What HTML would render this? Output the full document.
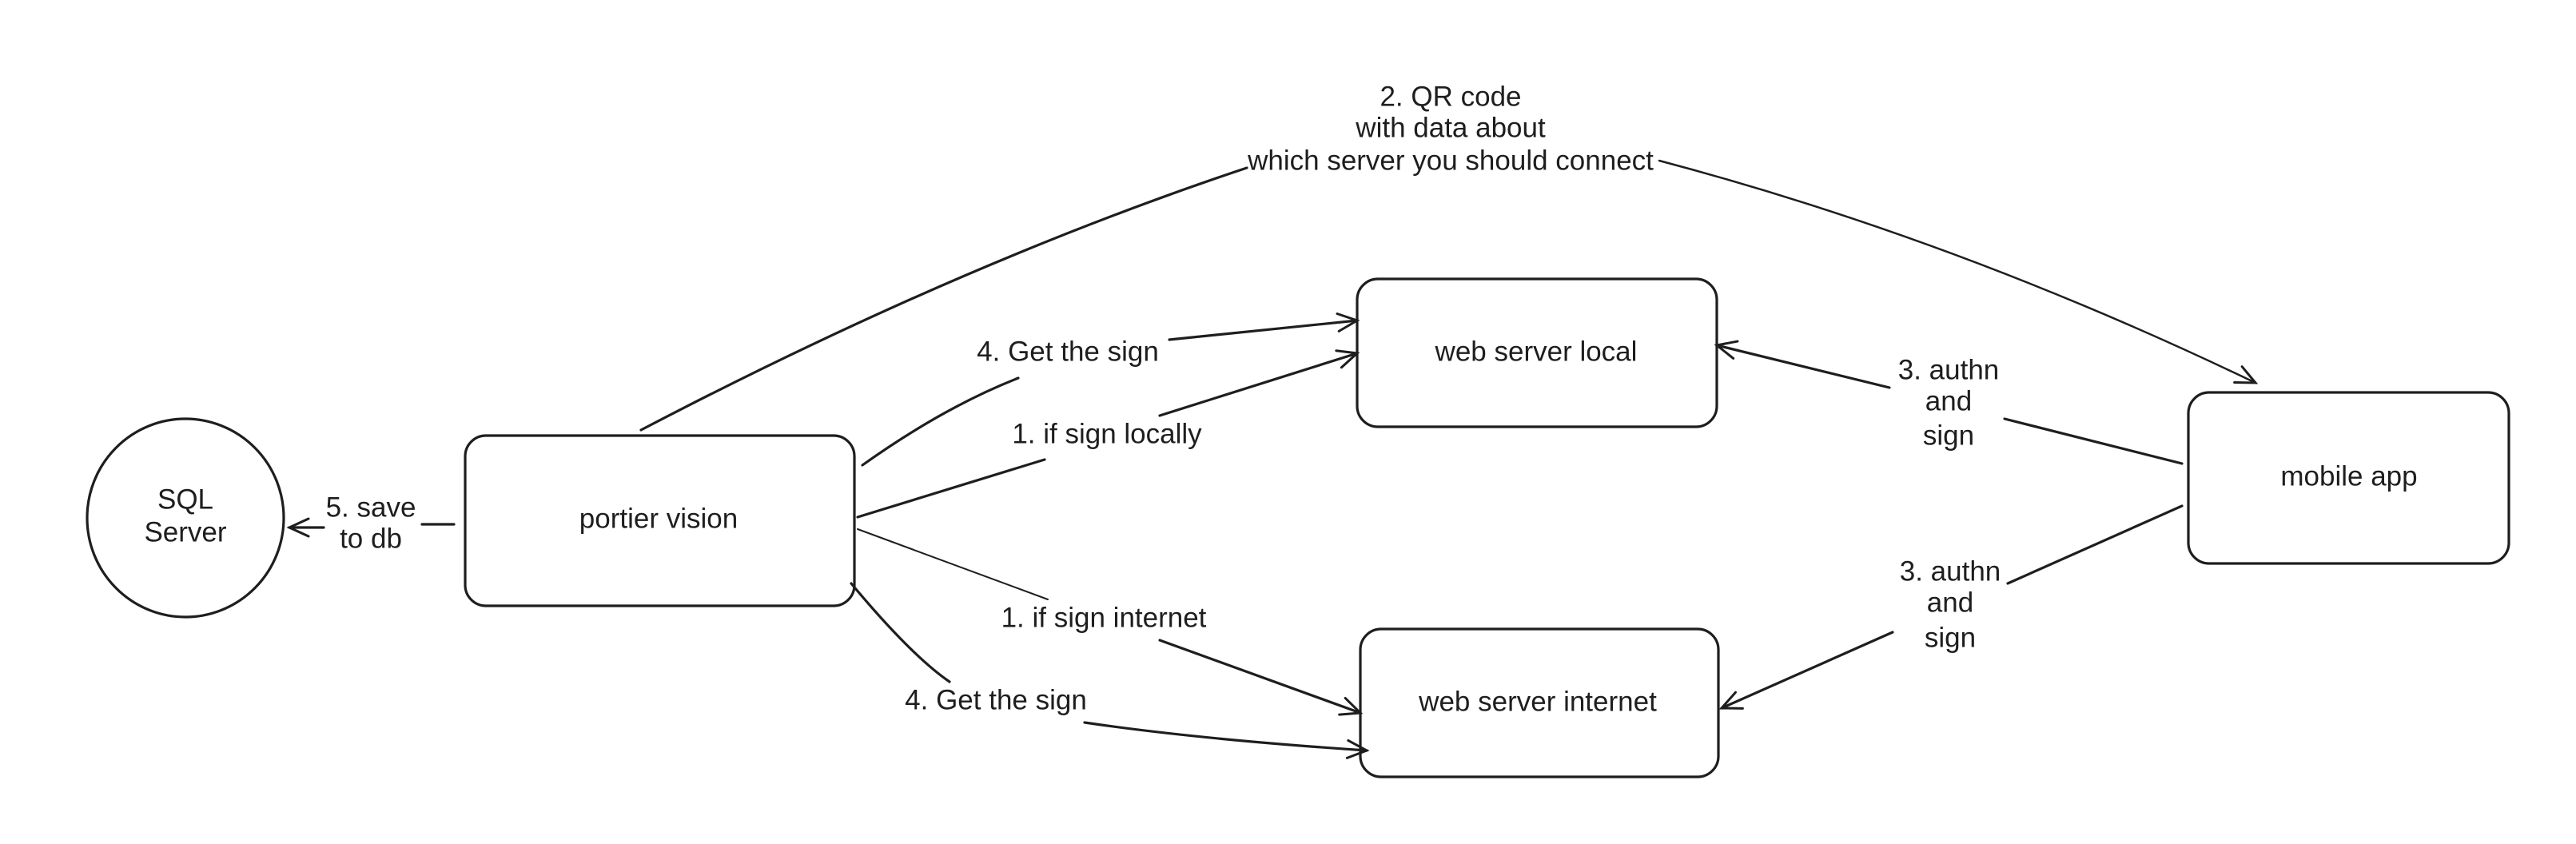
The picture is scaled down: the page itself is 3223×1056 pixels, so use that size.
<!DOCTYPE html>
<html><head><meta charset="utf-8"><style>
html,body{margin:0;padding:0;background:#fff;}
svg{display:block;}
text{font-family:"Liberation Sans",sans-serif;font-size:35px;fill:#1e1e1e;text-anchor:middle;dominant-baseline:middle;}
</style></head><body>
<svg width="3223" height="1056" viewBox="0 0 3223 1056" xmlns="http://www.w3.org/2000/svg">
<defs>
<marker id="a" markerWidth="30" markerHeight="30" refX="26" refY="15" orient="auto" markerUnits="userSpaceOnUse">
<path d="M2,4 L26,15 L2,26" fill="none" stroke="#1e1e1e" stroke-width="3" stroke-linecap="round"/>
</marker>
</defs>
<g fill="none" stroke="#1e1e1e" stroke-width="3.2" stroke-linecap="round">
<ellipse cx="232" cy="648" rx="123" ry="124"/>
<rect x="582" y="545" width="487" height="213" rx="26"/>
<rect x="1698" y="349" width="450" height="185" rx="26"/>
<rect x="1702" y="787" width="448" height="185" rx="26"/>
<rect x="2738" y="491" width="401" height="214" rx="26"/>
<path d="M802,538 Q1200,330 1560,210"/>
<path d="M2076,201 Q2450,300 2822,479" marker-end="url(#a)" stroke-width="2.5"/>
<path d="M1079,582 Q1180,510 1274,473"/>
<path d="M1463,425 L1698,401" marker-end="url(#a)"/>
<path d="M1073,647 L1307,575"/>
<path d="M1451,520 L1698,442" marker-end="url(#a)"/>
<path d="M1073,662 L1311,750" stroke-width="2"/>
<path d="M1451,801 L1702,892" marker-end="url(#a)"/>
<path d="M1065,730 Q1140,820 1188,853"/>
<path d="M1357,904 Q1500,925 1710,939" marker-end="url(#a)"/>
<path d="M2730,580 L2508,524"/>
<path d="M2364,485 L2148,432" marker-end="url(#a)"/>
<path d="M2730,633 L2512,730"/>
<path d="M2368,791 L2154,886" marker-end="url(#a)"/>
<path d="M528,656 L568,656"/>
<path d="M405,660 L362,660" marker-end="url(#a)"/>
</g>
<text x="232" y="627">SQL</text>
<text x="232" y="668">Server</text>
<text x="824" y="651">portier vision</text>
<text x="1922" y="442">web server local</text>
<text x="1924" y="880">web server internet</text>
<text x="2939" y="598">mobile app</text>
<text x="1815" y="123">2. QR code</text>
<text x="1815" y="162">with data about</text>
<text x="1815" y="203">which server you should connect</text>
<text x="1336" y="442">4. Get the sign</text>
<text x="1385" y="545">1. if sign locally</text>
<text x="1381" y="775">1. if sign internet</text>
<text x="1246" y="878">4. Get the sign</text>
<text x="2438" y="465">3. authn</text>
<text x="2438" y="504">and</text>
<text x="2438" y="547">sign</text>
<text x="2440" y="717">3. authn</text>
<text x="2440" y="756">and</text>
<text x="2440" y="800">sign</text>
<text x="464" y="637">5. save</text>
<text x="464" y="676">to db</text>
</svg>
</body></html>
